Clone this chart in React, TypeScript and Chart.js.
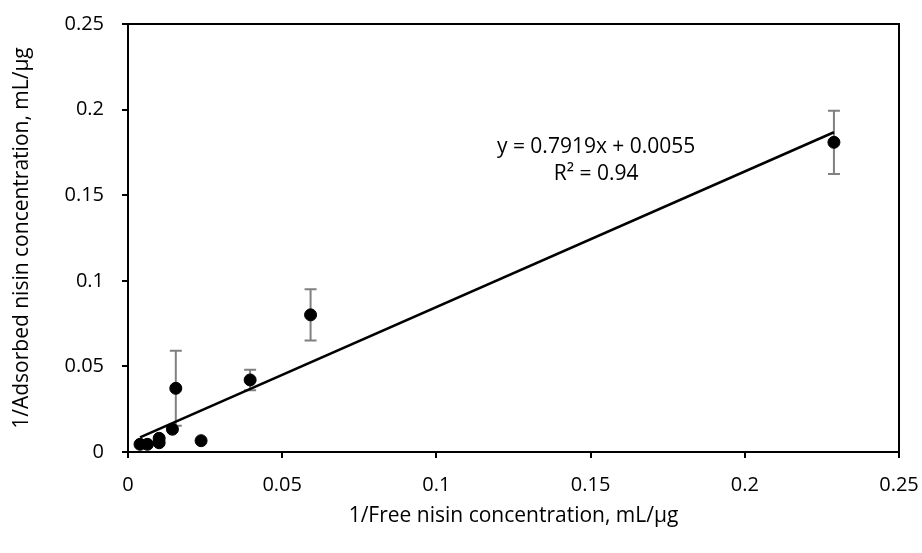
import React, { useEffect, useRef } from "react";
import { Chart, registerables } from "chart.js";

Chart.register(...registerables);

// Measured points (1/Free, 1/Adsorbed) with error bar half-widths
const freeInv = [0.0039, 0.0063, 0.0101, 0.0101, 0.0144, 0.0237, 0.0155, 0.0396, 0.0592, 0.2289];
const adsInv = [0.0045, 0.0045, 0.008, 0.0054, 0.0133, 0.0066, 0.0372, 0.0421, 0.0801, 0.1809];
const adsErr = [0, 0, 0, 0, 0, 0, 0.0219, 0.006, 0.015, 0.0185];

// Linear trendline y = slope*x + intercept
const slope = 0.7919;
const intercept = 0.0055;
const trendRange = [0.0039, 0.2289];
const equationLabel = "y = 0.7919x + 0.0055";
const r2Label = "R² = 0.94";

const ticks = [0, 0.05, 0.1, 0.15, 0.2, 0.25];
const xTitle = "1/Free nisin concentration, mL/µg";
const yTitle = "1/Adsorbed nisin concentration, mL/µg";

const FONT = "'Open Sans', sans-serif";

export default function App() {
  const ref = useRef<HTMLCanvasElement>(null);

  useEffect(() => {
    document.body.style.margin = "0";
    const canvas = ref.current;
    if (!canvas) return;

    const errorBars = {
      id: "errorBars",
      beforeDatasetsDraw(chart: any) {
        const ctx = chart.ctx;
        const xs = chart.scales.x;
        const ys = chart.scales.y;
        ctx.save();
        ctx.strokeStyle = "#808080";
        ctx.lineWidth = 2;
        adsErr.forEach((e, i) => {
          if (!e) return;
          const px = xs.getPixelForValue(freeInv[i]);
          const top = ys.getPixelForValue(adsInv[i] + e);
          const bot = ys.getPixelForValue(adsInv[i] - e);
          ctx.beginPath();
          ctx.moveTo(px, top);
          ctx.lineTo(px, bot);
          ctx.moveTo(px - 6, top);
          ctx.lineTo(px + 6, top);
          ctx.moveTo(px - 6, bot);
          ctx.lineTo(px + 6, bot);
          ctx.stroke();
        });
        ctx.restore();
      },
      afterDraw(chart: any) {
        const ctx = chart.ctx;
        const a = chart.chartArea;
        ctx.save();
        ctx.strokeStyle = "#000";
        ctx.lineWidth = 2;
        ctx.beginPath();
        ctx.moveTo(a.left, a.top);
        ctx.lineTo(a.right, a.top);
        ctx.lineTo(a.right, a.bottom);
        ctx.stroke();
        const xs = chart.scales.x;
        const ys = chart.scales.y;
        const cx = xs.getPixelForValue(0.1518);
        const cy = ys.getPixelForValue(0.178);
        ctx.fillStyle = "#000";
        ctx.font = `21px ${FONT}`;
        ctx.textAlign = "center";
        ctx.textBaseline = "middle";
        ctx.fillText(equationLabel, cx, cy);
        ctx.fillText(r2Label, cx, cy + 27);
        ctx.restore();
      },
    };

    const chart = new Chart(canvas, {
      type: "scatter",
      data: {
        datasets: [
          {
            type: "line",
            data: trendRange.map((x) => ({ x, y: slope * x + intercept })),
            borderColor: "#000",
            borderWidth: 2.5,
            pointRadius: 0,
            fill: false,
          } as any,
          {
            data: freeInv.map((x, i) => ({ x, y: adsInv[i] })),
            backgroundColor: "#000",
            borderColor: "#000",
            pointRadius: 6,
            borderWidth: 1,
          },
        ],
      },
      options: {
        responsive: false,
        animation: false,
        layout: { padding: { top: 24, right: 23, left: 0, bottom: 0 } },
        plugins: { legend: { display: false }, tooltip: { enabled: false } },
        scales: {
          x: {
            type: "linear",
            min: 0,
            max: 0.25,
            afterFit(scale: any) {
              scale.height = 101;
              scale.paddingRight = 0;
              scale.paddingLeft = 0;
            },
            afterBuildTicks(scale: any) {
              scale.ticks = ticks.map((v) => ({ value: v }));
            },
            ticks: {
              color: "#000",
              padding: 15,
              maxRotation: 0,
              font: { family: FONT, size: 20 },
              callback: (v: any) => String(v),
            },
            grid: {
              display: true,
              drawOnChartArea: false,
              drawTicks: true,
              tickLength: 6,
              color: "#000",
              lineWidth: 2,
            },
            border: { display: true, color: "#000", width: 2 },
            title: {
              display: true,
              text: xTitle,
              color: "#000",
              font: { family: FONT, size: 21 },
              padding: { top: 0, bottom: 24 },
            },
          },
          y: {
            type: "linear",
            min: 0,
            max: 0.25,
            afterFit(scale: any) {
              scale.width = 128;
              scale.paddingTop = 0;
              scale.paddingBottom = 0;
            },
            afterBuildTicks(scale: any) {
              scale.ticks = ticks.map((v) => ({ value: v }));
            },
            ticks: {
              color: "#000",
              padding: 18,
              font: { family: FONT, size: 20 },
              callback: (v: any) => String(v),
            },
            grid: {
              display: true,
              drawOnChartArea: false,
              drawTicks: true,
              tickLength: 6,
              color: "#000",
              lineWidth: 2,
            },
            border: { display: true, color: "#000", width: 2 },
            title: {
              display: true,
              text: yTitle,
              color: "#000",
              font: { family: FONT, size: 21 },
              padding: { top: 9, bottom: 0 },
            },
          },
        },
      },
      plugins: [errorBars],
    } as any);

    return () => chart.destroy();
  }, []);

  return <canvas ref={ref} width={922} height={553} style={{ display: "block" }} />;
}
